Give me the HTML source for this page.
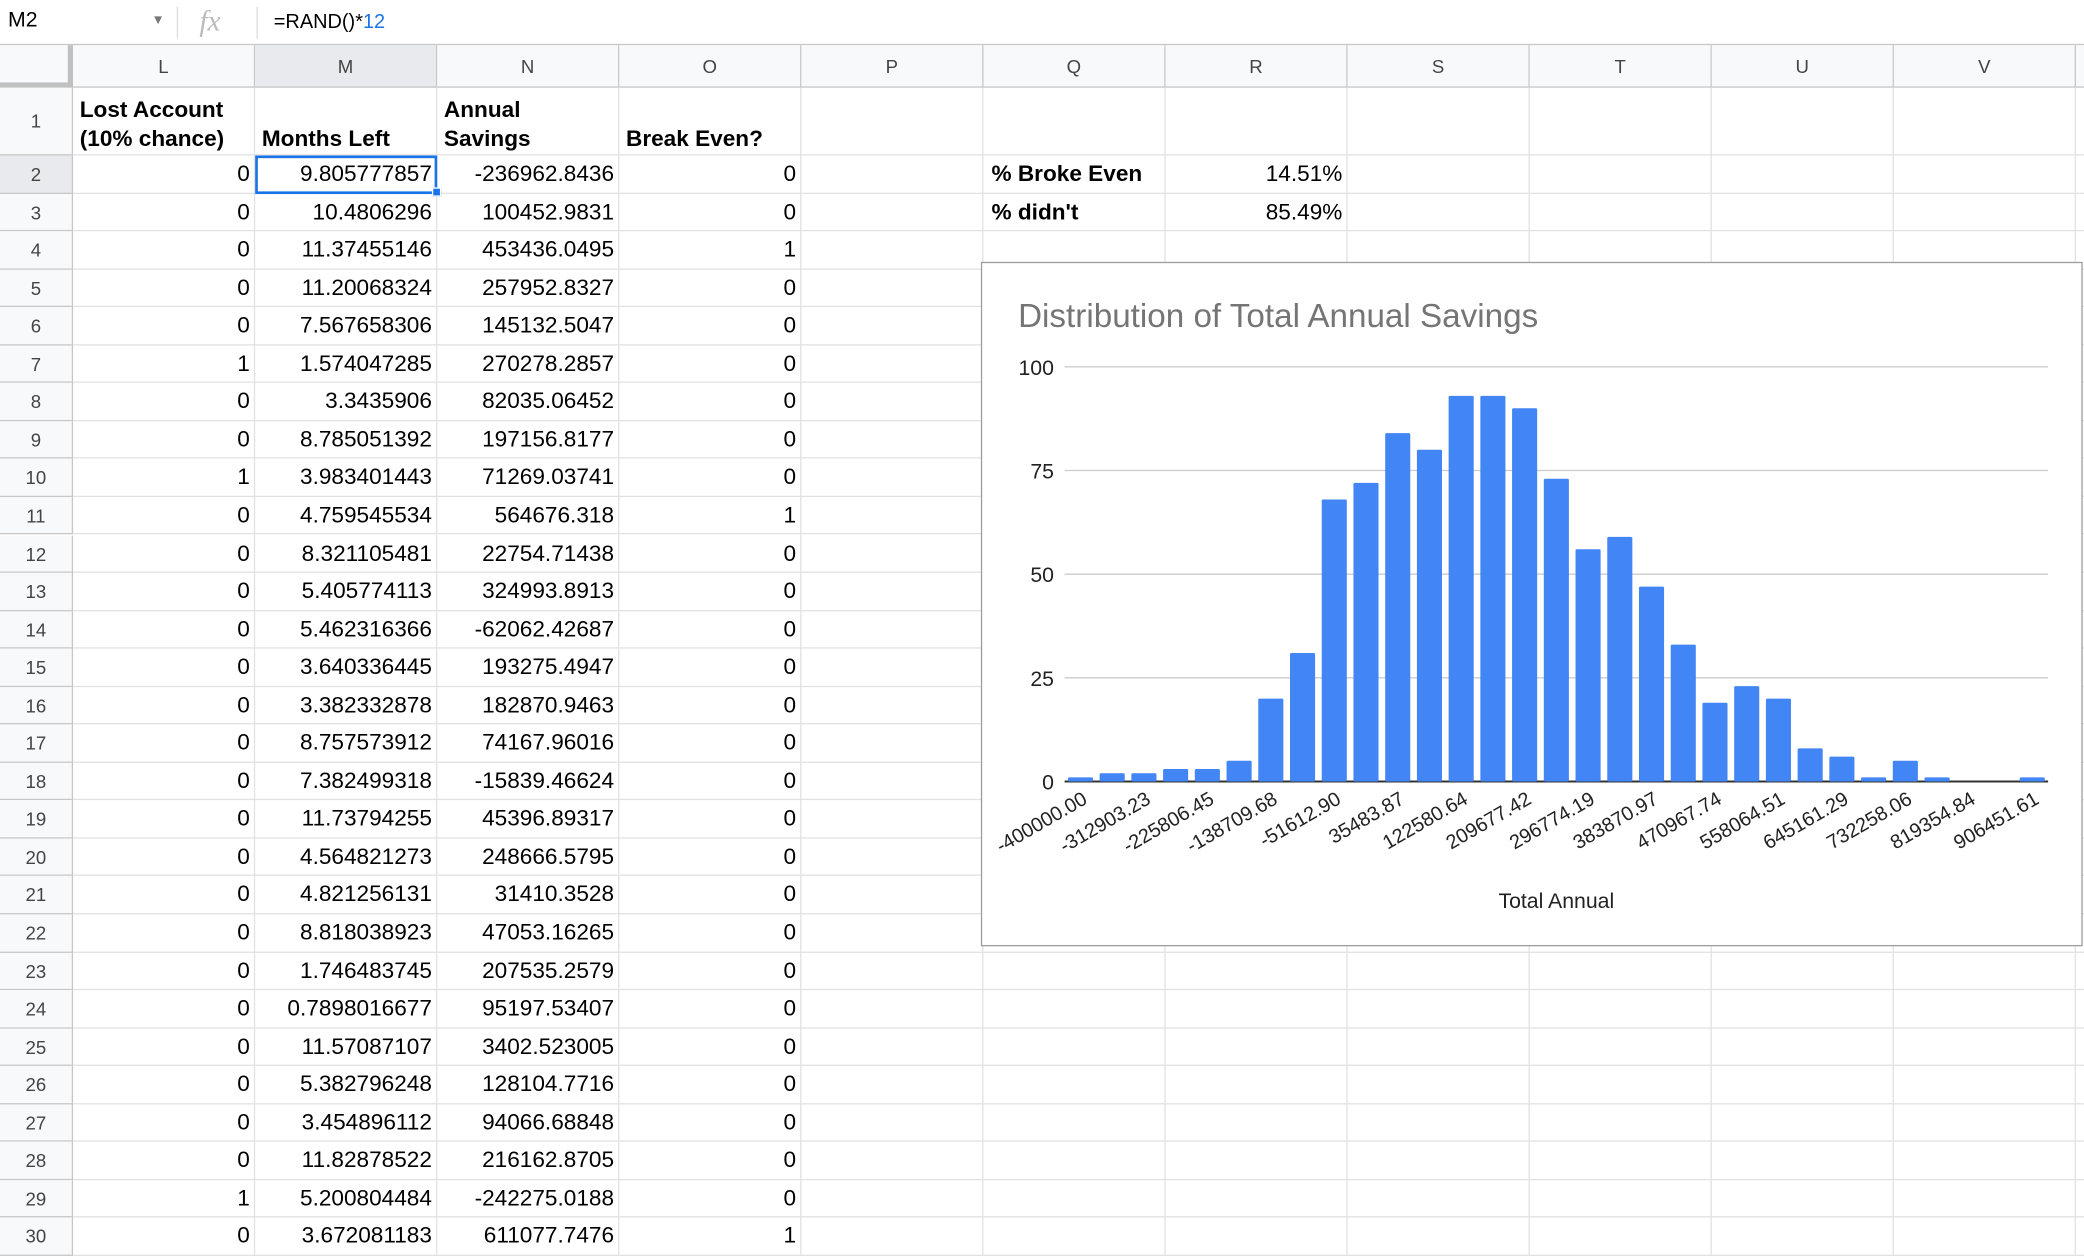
<!DOCTYPE html>
<html><head><meta charset="utf-8"><style>
html,body{margin:0;padding:0;background:#fff;overflow:hidden}
body{width:2084px;height:1256px}
#wrap{position:absolute;left:0;top:0;width:1568px;height:945px;transform:scale(1.32908);transform-origin:0 0;font-family:"Liberation Sans",Arial,sans-serif;color:#000}
.a{position:absolute;box-sizing:border-box}
.cell{font-size:17px;white-space:nowrap;overflow:hidden;padding:0 4px;line-height:28px}
.hdr{background:#f8f9fa;color:#444;font-size:14px;text-align:center}
</style></head><body>
<div id="wrap">
  <div class="a" style="left:0;top:0;width:1568px;height:34px;border-bottom:1px solid #c7c7c7;background:#fff">
    <div class="a" style="left:6px;top:7px;font-size:16px">M2</div>
    <div class="a" style="left:114px;top:10px;font-size:10px;color:#777">▼</div>
    <div class="a" style="left:133px;top:5px;width:1px;height:24px;background:#ddd"></div>
    <div class="a" style="left:150px;top:3px;font-size:22px;color:#bbb;font-style:italic;font-family:'Liberation Serif',serif">fx</div>
    <div class="a" style="left:193px;top:5px;width:1px;height:24px;background:#ddd"></div>
    <div class="a" style="left:206px;top:8px;font-size:15px">=RAND()*<span style="color:#1a73e8">12</span></div>
  </div>
  <div id="grid"></div>
  <div class="a" style="left:738px;top:197px;width:829px;height:515px;border:1px solid #9e9e9e;background:#fff">
    <svg id="chart" width="827" height="513" style="position:absolute;left:0;top:0"></svg>
  </div>
</div>
<script>
const cats=['L','M','N','O','P','Q','R','S','T','U','V'];
const colX=[55,192,329,466,603,740,877,1014,1151,1288,1425,1562];
const colA=[1,2,2,2,3,4,5,6,7,8,9];
const rowsL=[0,0,0,0,0,1,0,0,1,0,0,0,0,0,0,0,0,0,0,0,0,0,0,0,0,0,0,1,0];
const rowsM=['9.805777857','10.4806296','11.37455146','11.20068324','7.567658306','1.574047285','3.3435906','8.785051392','3.983401443','4.759545534','8.321105481','5.405774113','5.462316366','3.640336445','3.382332878','8.757573912','7.382499318','11.73794255','4.564821273','4.821256131','8.818038923','1.746483745','0.7898016677','11.57087107','5.382796248','3.454896112','11.82878522','5.200804484','3.672081183'];
const rowsN=['-236962.8436','100452.9831','453436.0495','257952.8327','145132.5047','270278.2857','82035.06452','197156.8177','71269.03741','564676.318','22754.71438','324993.8913','-62062.42687','193275.4947','182870.9463','74167.96016','-15839.46624','45396.89317','248666.5795','31410.3528','47053.16265','207535.2579','95197.53407','3402.523005','128104.7716','94066.68848','216162.8705','-242275.0188','611077.7476'];
const rowsO=[0,0,1,0,0,0,0,0,0,1,0,0,0,0,0,0,0,0,0,0,0,0,0,0,0,0,0,0,1];
const g=document.getElementById('grid');
function mk(name,inter,l,t,w,h,cls,txt,style){const d=document.createElement('div');d.className='a '+(cls||'');


d.style.cssText=`left:${l}px;top:${t}px;width:${w}px;height:${h}px;`+(style||'');if(txt!==undefined)d.innerHTML=txt;g.appendChild(d);return d;}
const rowTop=[66,117];for(let i=2;i<=30;i++)rowTop.push(117+(i-1)*28.55);
// column headers
mk('corner','true',0,34,55,32,'hdr','','border-right:4px solid #c0c0c0;border-bottom:4px solid #c0c0c0');
for(let c=0;c<cats.length;c++){mk('column-header-'+cats[c],'true',colX[c],34,colX[c+1]-colX[c],32,'hdr',cats[c],'line-height:32px;border-right:1px solid #c7c7c7;border-bottom:1px solid #c7c7c7;'+(cats[c]=='M'?'background:#e8eaed':''));}
mk('column-header-rest','false',1562,34,6,32,'hdr','','border-bottom:1px solid #c7c7c7');
// row headers & grid lines
for(let r=1;r<=30;r++){const t=rowTop[r-1],b=(rowTop[r]||945);
mk('row-header-'+r,'true',0,t,55,b-t,'hdr',String(r),`line-height:${b-t}px;border-right:1px solid #c7c7c7;border-bottom:1px solid #c7c7c7;`+(r==2?'background:#e8eaed':''));
mk('row-'+r,'false',55,t,1513,b-t,'','', 'border-bottom:1px solid #e2e2e2');}
for(let c=1;c<colX.length;c++)mk('column-line','false',colX[c]-1,66,1,879,'','','background:#e2e2e2');
// header row
const hd=['Lost Account<br>(10% chance)','Months Left','Annual<br>Savings','Break Even?'];
for(let c=0;c<4;c++)mk('header-'+cats[c],'true',colX[c],66,colX[c+1]-colX[c],51,'cell','<div style="position:absolute;bottom:1px;left:5px;line-height:22px;font-weight:bold">'+hd[c]+'</div>');
for(let i=0;i<29;i++){const t=rowTop[i+1],h=28.55;
mk('cell-L'+(i+2),'true',colX[0],t,137,h,'cell',rowsL[i],'text-align:right');
mk('cell-M'+(i+2),'true',colX[1],t,137,h,'cell',rowsM[i],'text-align:right');
mk('cell-N'+(i+2),'true',colX[2],t,137,h,'cell',rowsN[i],'text-align:right');
mk('cell-O'+(i+2),'true',colX[3],t,137,h,'cell',rowsO[i],'text-align:right');}
mk('selected-cell','true',192,117,137,29,'','','border:2px solid #1a73e8');
mk('fill-handle','true',325,141,7,7,'','','background:#1a73e8;border:1px solid #fff');
mk('label-broke-even','false',740,rowTop[1],137,28.55,'cell','% Broke Even','font-weight:bold;padding-left:6px');
mk('value-broke-even','false',877,rowTop[1],137,28.55,'cell','14.51%','text-align:right');
mk('label-didnt','false',740,rowTop[2],137,28.55,'cell',"% didn't",'font-weight:bold;padding-left:6px');
mk('value-didnt','false',877,rowTop[2],137,28.55,'cell','85.49%','text-align:right');
</script>
<script>
const binStarts=[];for(let i=0;i<31;i++)binStarts.push(-400000+i*(1306451.61/30));
const counts=[1,2,2,3,3,5,20,31,68,72,84,80,93,93,90,73,56,59,47,33,19,23,20,8,6,1,5,1,0,0,1];
const yTicks=[0,25,50,75,100];
const NS='http://www.w3.org/2000/svg';
const svg=document.getElementById('chart');
const X0=62,X1=802,Y0=390,Ytop=78,yMax=100;
const pitch=(X1-X0)/counts.length;
const yS=v=>Y0-(v/yMax)*(Y0-Ytop);
const xS=i=>X0+i*pitch;
function el(tag,attrs,txt){const e=document.createElementNS(NS,tag);for(const k in attrs)e.setAttribute(k,attrs[k]);if(txt!==undefined)e.textContent=txt;svg.appendChild(e);return e;}
const t=el('text',{x:27,y:48,'font-size':25,fill:'#757575','font-family':'Liberation Sans, sans-serif'},'Distribution of Total Annual Savings');


yTicks.forEach(v=>{const l=el('line',{x1:X0,x2:X1,y1:yS(v),y2:yS(v),stroke:v==0?'#333':'#ccc','stroke-width':v==0?1.5:1});


const tx=el('text',{x:54,y:yS(v)+6,'text-anchor':'end','font-size':16,fill:'#222','font-family':'Liberation Sans, sans-serif'},String(v));

});
counts.forEach((c,i)=>{if(c<=0)return;const r=el('rect',{x:xS(i)+2.5,y:yS(c),width:pitch-5,height:Y0-yS(c),fill:'#4285f4',rx:1});

});
binStarts.forEach((b,i)=>{if(i%2)return;const cx=xS(i)+pitch/2+6,cy=Y0+16;
const tx=el('text',{x:cx,y:cy,'text-anchor':'end','font-size':15,fill:'#222','font-family':'Liberation Sans, sans-serif',transform:`rotate(-30 ${cx} ${cy})`},b.toFixed(2));

});
const at=el('text',{x:432,y:485,'text-anchor':'middle','font-size':16,fill:'#222','font-family':'Liberation Sans, sans-serif'},'Total Annual');


</script>
</body></html>
